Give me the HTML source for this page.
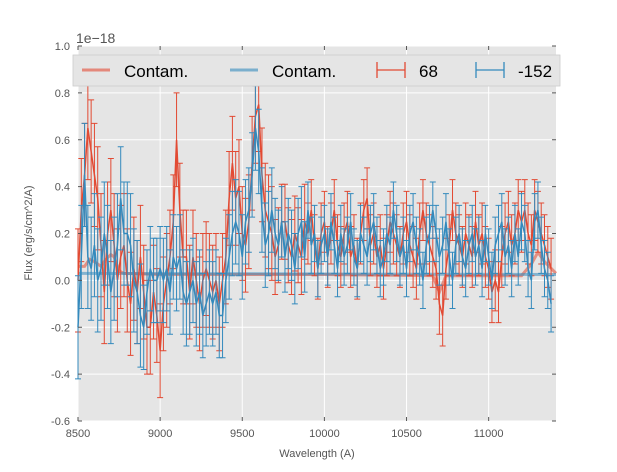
<!DOCTYPE html>
<html><head><meta charset="utf-8"><style>
body{margin:0;background:#fff;font-family:"Liberation Sans","DejaVu Sans",sans-serif}
</style></head><body>
<svg id="chart" width="617" height="467" xmlns="http://www.w3.org/2000/svg">
<rect x="78" y="46" width="478" height="375" fill="#e5e5e5"/>
<g id="grid"></g>
<g id="series"></g>
<g id="axes"></g>
<text x="76" y="43" font-size="14" fill="#555">1e−18</text>
<text x="317" y="457" font-size="11" text-anchor="middle" fill="#555">Wavelength (A)</text>
<text transform="translate(32,233) rotate(-90)" font-size="11" text-anchor="middle" fill="#555">Flux (erg/s/cm^2/A)</text>
<g>
<rect x="73" y="55" width="487" height="31" fill="#e5e5e5" stroke="#ccc" stroke-width="0.8"/>
<line x1="82" y1="70" x2="110" y2="70" stroke="#e24a33" stroke-opacity="0.6" stroke-width="3"/>
<text x="124" y="77" font-size="17">Contam.</text>
<line x1="230" y1="70" x2="258" y2="70" stroke="#348abd" stroke-opacity="0.6" stroke-width="3"/>
<text x="272" y="77" font-size="17">Contam.</text>
<g stroke="#e24a33" stroke-width="1.3"><line x1="377" y1="70" x2="405" y2="70"/><line x1="377" y1="62" x2="377" y2="78"/><line x1="405" y1="62" x2="405" y2="78"/></g>
<text x="419" y="77" font-size="17">68</text>
<g stroke="#348abd" stroke-width="1.3"><line x1="476" y1="70" x2="504" y2="70"/><line x1="476" y1="62" x2="476" y2="78"/><line x1="504" y1="62" x2="504" y2="78"/></g>
<text x="518" y="77" font-size="17">-152</text>
</g>
</svg>
<script>
const xTicks=[8500,9000,9500,10000,10500,11000];
const yTicks=[-0.6,-0.4,-0.2,0.0,0.2,0.4,0.6,0.8,1.0];
const wl0=8500, dwl=20;
const redFlux=[0.0,0.3,0.45,0.65,0.55,0.45,0.35,0.15,-0.05,0.2,0.3,0.15,0.0,0.1,0.15,0.0,-0.1,0.05,-0.05,0.1,
-0.05,-0.2,-0.2,-0.05,-0.15,-0.3,-0.1,0.0,0.1,0.25,0.6,0.3,0.1,0.1,-0.05,0.1,0.0,-0.1,0.0,0.05,
0.0,-0.05,0.0,-0.1,0.0,0.1,0.35,0.5,0.35,0.4,0.2,0.15,0.25,0.5,0.7,0.75,0.45,0.3,0.25,0.2,
0.1,0.15,0.25,0.25,0.15,0.1,0.2,0.15,0.1,0.25,
0.2,0.3,0.15,0.05,0.2,0.25,0.1,0.2,0.3,0.15,0.1,0.2,0.25,0.1,0.15,0.05,0.2,0.3,0.35,0.15,0.2,0.1,0.15,0.05,0.15,0.25,0.2,0.15,0.1,0.2,0.25,0.15,0.1,0.05,0.2,0.3,0.2,0.15,
0.1,0.05,-0.1,-0.15,0.05,0.15,0.3,0.2,
0.15,0.1,0.2,0.15,0.1,0.25,0.15,0.2,0.1,0.05,-0.05,0.0,
-0.05,0.1,0.2,0.25,0.15,0.2,0.3,0.25,0.3,0.2,0.15,0.3,0.25,0.2,0.15,0.1,0.05];
const blueFlux=[-0.2,0.1,0.45,0.1,0.05,0.15,0.0,0.05,0.2,0.1,-0.05,0.05,0.15,0.35,0.2,0.2,0.15,0.0,-0.05,-0.15,
-0.2,-0.05,0.05,0.0,0.0,0.05,0.0,0.05,-0.05,0.1,0.05,0.1,-0.05,-0.1,-0.05,0.0,-0.1,-0.05,-0.15,-0.1,
-0.05,-0.1,-0.05,-0.15,-0.15,0.0,0.1,0.2,0.25,0.2,0.1,0.25,0.3,0.45,0.65,0.55,0.3,0.15,0.2,0.3,0.2,0.15,
0.25,0.1,0.2,0.15,0.05,0.2,0.25,0.1,0.3,0.15,0.2,0.05,0.15,0.2,0.1,0.25,0.15,0.05,0.2,0.1,
0.15,0.25,0.1,0.05,0.2,0.15,0.1,0.2,0.25,0.15,0.05,0.1,0.2,0.15,0.3,0.2,0.1,0.15,0.05,0.2,
0.25,0.15,0.1,0.0,0.15,0.2,0.3,0.2,0.1,0.15,0.25,0.1,0.0,0.15,0.2,0.1,0.05,0.15,0.2,0.1,
0.15,0.05,0.2,0.1,0.0,0.15,0.2,0.25,0.1,0.15,0.05,0.2,0.1,0.25,0.2,0.05,0.0,0.25,0.3,0.15,
0.05,0.0,-0.1];
// error bar half-widths given as [count, error] runs
const redErrRuns=[[20,0.22],[40,0.2],[10,0.16],[75,0.13]];
const blueErrRuns=[[20,0.22],[40,0.18],[10,0.15],[75,0.12]];
const redContamWl=[8500,8540,8570,8600,8640,8670,8700,8720,8750,8780,9000,10000,10660,10700,10740,10780,11100,11200,11260,11300,11340,11410];
const redContam=[0.06,0.06,0.09,0.08,0.06,0.09,0.11,0.1,0.04,0.03,0.025,0.025,0.02,-0.05,0.02,0.02,0.02,0.02,0.07,0.12,0.08,0.03];
const blueContamWl=[8500,11410];
const blueContam=[0.03,0.025];

const X0=78,X1=556,Y0=421,Y1=46;
const xs=w=>X0+(w-8500)/(11410-8500)*(X1-X0);
const ys=v=>Y0-(v+0.6)/1.6*(Y0-Y1);
const NS='http://www.w3.org/2000/svg';
function mk(tag,attrs,parent){const e=document.createElementNS(NS,tag);for(const k in attrs)e.setAttribute(k,attrs[k]);parent.appendChild(e);return e;}
function expand(runs){const o=[];runs.forEach(r=>{for(let i=0;i<r[0];i++)o.push(r[1]);});return o;}
const grid=document.getElementById('grid'),axes=document.getElementById('axes'),ser=document.getElementById('series');
xTicks.forEach(t=>{const l=mk('line',{x1:xs(t),x2:xs(t),y1:Y1,y2:Y0,stroke:'#fff','stroke-width':1},grid);


const tx=mk('text',{x:xs(t),y:Y0+16,'font-size':11,'text-anchor':'middle',fill:'#555'},axes);tx.textContent=t;


mk('line',{x1:xs(t),x2:xs(t),y1:Y0,y2:Y0-4,stroke:'#555'},axes);mk('line',{x1:xs(t),x2:xs(t),y1:Y1,y2:Y1+4,stroke:'#555'},axes);});
yTicks.forEach(t=>{const l=mk('line',{x1:X0,x2:X1,y1:ys(t),y2:ys(t),stroke:'#fff','stroke-width':1},grid);


const tx=mk('text',{x:X0-8,y:ys(t)+4,'font-size':11,'text-anchor':'end',fill:'#555'},axes);tx.textContent=t.toFixed(1);


mk('line',{x1:X0,x2:X0+4,y1:ys(t),y2:ys(t),stroke:'#555'},axes);mk('line',{x1:X1,x2:X1-4,y1:ys(t),y2:ys(t),stroke:'#555'},axes);});
function errSeries(vals,errs,color,name){
 const g=mk('g',{},ser);
 
 
 let d='';
 vals.forEach((v,i)=>{const w=wl0+i*dwl;if(w>11410)return;const x=xs(w),e=errs[i]!==undefined?errs[i]:0.13;
  const b=mk('path',{d:`M${x},${ys(v-e)}V${ys(v+e)}M${x-3},${ys(v-e)}h6M${x-3},${ys(v+e)}h6`,stroke:color,'stroke-width':1,fill:'none'},g);
  
  
  d+=(d?'L':'M')+x+','+ys(v);});
 const p=mk('path',{d,stroke:color,'stroke-width':1.5,fill:'none'},g);
 
 
}
function contam(wls,vals,color,name){const p=mk('path',{d:wls.map((w,i)=>(i?'L':'M')+xs(w)+','+ys(vals[i])).join(''),stroke:color,'stroke-opacity':0.55,'stroke-width':3,fill:'none'},ser);
 
 }
contam(redContamWl,redContam,'#e24a33','red-contam-line');
contam(blueContamWl,blueContam,'#348abd','blue-contam-line');
errSeries(redFlux,expand(redErrRuns),'#e24a33','series-68');
errSeries(blueFlux,expand(blueErrRuns),'#348abd','series-neg152');
</script>
</body></html>
